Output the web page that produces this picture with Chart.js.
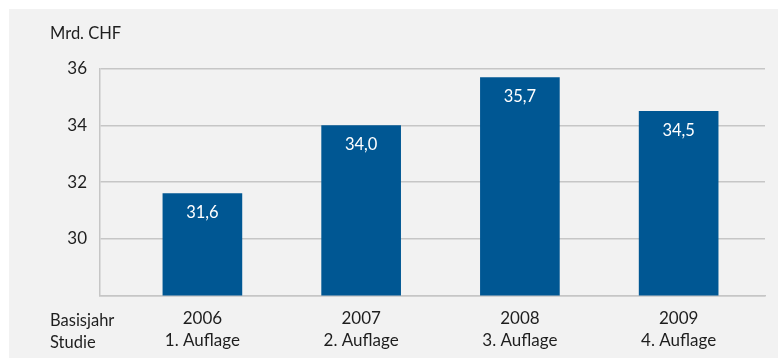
<!DOCTYPE html>
<html>
<script src="https://cdn.jsdelivr.net/npm/chart.js@4/dist/chart.umd.min.js"></script>
<body style="margin:0;background:#fff">

<canvas id="costChart" width="778" height="358"></canvas>

<script>

    // values in Mrd. CHF per base year / edition of the study
    let years = ["2006", "2007", "2008", "2009"];
    let editions = ["1. Auflage", "2. Auflage", "3. Auflage", "4. Auflage"];
    let values = [31.6, 34.0, 35.7, 34.5];
    let yTicks = [28, 30, 32, 34, 36];

    let barColor = "#005793";
    let gridColor = "#c6c6c6";
    let textColor = "#1e1e1e";
    let font = "Lato";

    // gray panel behind everything
    let panel = {
        id: "panel",
        beforeDraw(chart) {
            let ctx = chart.ctx;
            ctx.save();
            ctx.fillStyle = "#ffffff";
            ctx.fillRect(0, 0, chart.width, chart.height);
            ctx.fillStyle = "#f2f2f2";
            ctx.fillRect(9, 9, chart.width - 9, chart.height - 9);
            ctx.restore();
        }
    };

    // unit text, row titles and the numbers inside the bars
    let texts = {
        id: "texts",
        afterDatasetsDraw(chart) {
            let ctx = chart.ctx;
            ctx.save();
            ctx.font = "16.5px " + font;
            ctx.fillStyle = textColor;
            ctx.textAlign = "left";
            ctx.textBaseline = "alphabetic";
            ctx.fillText("Mrd. CHF", 50, 39);
            ctx.fillText("Basisjahr", 50, 326);
            ctx.fillText("Studie", 50, 348);

            ctx.fillStyle = "#ffffff";
            ctx.textAlign = "center";
            ctx.textBaseline = "middle";
            chart.getDatasetMeta(0).data.forEach((bar, i) => {
                ctx.fillText(values[i].toFixed(1).replace(".", ","), bar.x, bar.y + 19);
            });
            ctx.restore();
        }
    };

    new Chart("costChart", {
        type: "bar",
        data: {
            datasets: [{
                data: values.map((v, i) => ({x: i, y: v})),
                backgroundColor: barColor,
                barThickness: 79
            }]
        },
        plugins: [panel, texts],
        options: {
            responsive: false,
            animation: false,
            layout: {padding: {top: 69, right: 13, left: 0, bottom: 0}},
            plugins: {
                legend: {display: false},
                tooltip: {enabled: false}
            },
            scales: {
                x: {
                    type: "linear",
                    min: -0.645,
                    max: 3.544,
                    offset: false,
                    grid: {display: false, drawTicks: false, offset: false},
                    border: {display: true, color: gridColor, width: 1.5},
                    afterBuildTicks: scale => {
                        scale.ticks = years.map((y, i) => ({value: i}));
                    },
                    afterFit: scale => { scale.height = 62.6; },
                    ticks: {
                        padding: 12,
                        color: textColor,
                        font: {family: font, size: 17, lineHeight: 1.28},
                        maxRotation: 0,
                        autoSkip: false,
                        callback: (v, i) => [years[i], editions[i]]
                    }
                },
                y: {
                    min: 28,
                    max: 36,
                    grid: {color: gridColor, lineWidth: 1.5, drawTicks: false},
                    border: {display: true, color: gridColor, width: 1.5},
                    afterBuildTicks: scale => {
                        scale.ticks = yTicks.map(v => ({value: v}));
                    },
                    afterFit: scale => { scale.width = 100; },
                    ticks: {
                        padding: 13,
                        color: textColor,
                        font: {family: font, size: 17},
                        callback: v => v === 28 ? "" : v
                    }
                }
            }
        }
    });

</script>
</body>
</html>
